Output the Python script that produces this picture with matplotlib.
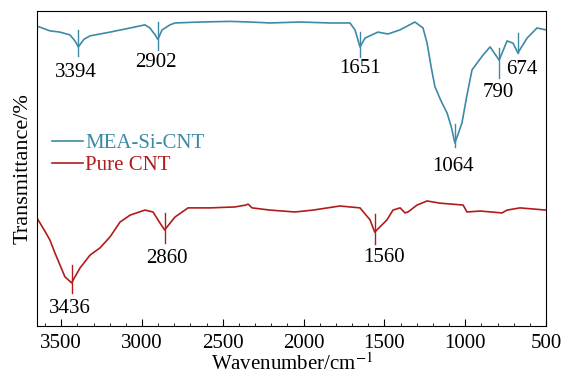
import numpy as np
import matplotlib
matplotlib.use('Agg')
import matplotlib.pyplot as plt
from matplotlib.ticker import MultipleLocator

plt.rcParams['font.family'] = ['Liberation Serif', 'DejaVu Serif']
plt.rcParams['mathtext.fontset'] = 'stix'

# MEA-Si-CNT spectrum (wavenumber, transmittance)
wn_mea = [3650, 3570, 3508, 3446, 3415, 3394, 3360, 3322, 3198, 3074, 2982, 2951,
          2920, 2902, 2876, 2827, 2796, 2641, 2456, 2332, 2208, 2022, 1837, 1713,
          1682, 1651, 1620, 1540, 1478, 1404, 1311, 1261, 1236, 1210, 1187, 1150,
          1112, 1085, 1064, 1040, 1020, 990, 958, 890, 846, 790, 741, 704, 674,
          617, 556, 500]
t_mea = [95.2, 93.7, 93.3, 92.4, 90.5, 88.6, 91.0, 92.1, 93.3, 94.6, 95.6, 94.6,
         92.5, 91.0, 94.0, 95.6, 96.2, 96.5, 96.7, 96.5, 96.2, 96.5, 96.2, 96.2,
         94.0, 88.6, 91.4, 93.3, 92.7, 94.0, 96.5, 94.6, 89.8, 82.0, 75.9, 71.5,
         67.6, 63.0, 58.1, 61.5, 64.5, 73.0, 81.3, 86.0, 88.6, 84.4, 90.5, 89.8,
         86.7, 91.4, 94.6, 94.0]

# pure CNT spectrum
wn_cnt = [3650, 3600, 3570, 3539, 3477, 3436, 3384, 3322, 3260, 3198, 3136, 3074,
          2982, 2932, 2889, 2860, 2796, 2715, 2579, 2425, 2357, 2344, 2319, 2208,
          2053, 1942, 1775, 1651, 1589, 1560, 1484, 1447, 1403, 1372, 1354, 1298,
          1236, 1156, 1013, 989, 908, 772, 741, 661, 500]
t_cnt = [34.3, 30.0, 27.3, 23.2, 15.6, 13.7, 18.4, 22.5, 24.8, 28.3, 33.0, 35.2,
         36.8, 36.2, 32.7, 30.5, 34.6, 37.5, 37.5, 37.8, 38.4, 38.7, 37.5, 36.8,
         36.2, 36.8, 38.1, 37.5, 33.7, 29.8, 33.7, 36.8, 37.5, 35.9, 36.2, 38.4,
         39.7, 39.0, 38.4, 36.2, 36.5, 35.9, 36.8, 37.5, 36.8]

peaks_mea = [3394, 2902, 1651, 1064, 790, 674]
peaks_cnt = [3436, 2860, 1560]

c_mea = '#3d8aa6'
c_cnt = '#b01c1c'

fig = plt.figure(figsize=(5.63, 3.74), dpi=100)
ax = fig.add_axes([0.0657, 0.1283, 0.9041, 0.8423])

ax.plot(wn_mea, t_mea, color=c_mea, lw=1.2, label='MEA-Si-CNT')
ax.plot(wn_cnt, t_cnt, color=c_cnt, lw=1.2, label='Pure CNT')

# peak markers: (up, down) extent around the dip, label centre
mk_mea = [(5.5, 3.0), (5.5, 3.5), (4.8, 3.2), (6.0, 1.3), (3.8, 5.7), (6.3, 0.0)]
lab_mea = [(3409, 80.6), (2914, 83.5), (1651, 81.9), (1075, 50.5), (797, 74.0), (650, 81.3)]
mk_cnt = [(5.7, 3.2), (5.4, 4.1), (5.7, 3.8)]
lab_cnt = [(3446, 5.7), (2845, 21.3), (1500, 21.6)]


def mark(peaks, wn, t, ext, labs, col):
    for p, (up, dn), (lx, ly) in zip(peaks, ext, labs):
        y = np.interp(p, wn[::-1], t[::-1])
        ax.plot([p, p], [y - dn, y + up], color=col, lw=1.0)
        ax.text(lx, ly, str(p), ha='center', va='center', fontsize=15)


mark(peaks_mea, wn_mea, t_mea, mk_mea, lab_mea, c_mea)
mark(peaks_cnt, wn_cnt, t_cnt, mk_cnt, lab_cnt, c_cnt)

ax.set_xlim(3650, 500)
ax.set_ylim(0, 100)
ax.xaxis.set_major_locator(MultipleLocator(500))
ax.xaxis.set_minor_locator(MultipleLocator(100))
ax.tick_params(axis='x', which='major', direction='in', length=5, labelsize=15,
               top=False, pad=6)
ax.tick_params(axis='x', which='minor', direction='in', length=2.5, top=False)
ax.set_yticks([])
ax.set_xlabel('Wavenumber/cm$^{-1}$', fontsize=15, labelpad=0)
ax.set_ylabel('Transmittance/%', fontsize=16, labelpad=3)

leg = ax.legend(loc='center left', bbox_to_anchor=(0.0, 0.545), frameon=False,
                fontsize=15, handlelength=1.5, handletextpad=0.1,
                borderaxespad=0.3, labelspacing=0.1)
for txt, col in zip(leg.get_texts(), [c_mea, c_cnt]):
    txt.set_color(col)

fig.savefig('out.png', dpi=100)
